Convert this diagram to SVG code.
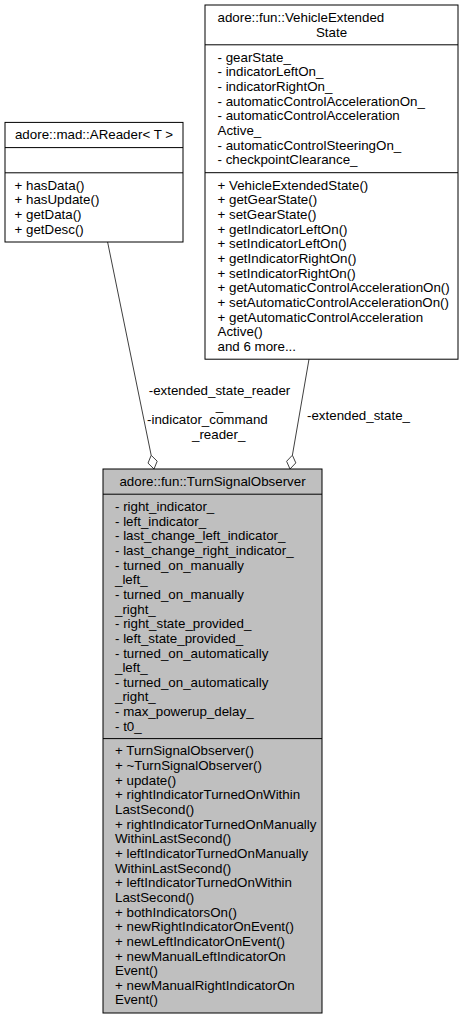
<svg xmlns="http://www.w3.org/2000/svg" width="464" height="1020" viewBox="0 0 464 1020">
<style>
text{font-family:"Liberation Sans",Arial,Helvetica,sans-serif;font-size:13.33px;fill:#000}
.box{fill:#fff;stroke:#000;stroke-width:1}
.hl{fill:#bfbfbf;stroke:#000;stroke-width:1}
.sep{stroke:#000;stroke-width:1;fill:none}
.edge{stroke:#404040;stroke-width:1;fill:none}
.dia{stroke:#404040;stroke-width:1;fill:#fff}
.mid{text-anchor:middle}
</style>
<rect width="464" height="1020" fill="#fff"/>
<g id="connectors">
<path class="edge" d="M107.6,242 L151.2,455.3"/>
<polygon class="dia" points="154,469 157.2,461.2 151.2,455.3 148,463.1"/>
<path class="edge" d="M309,359.2 L292.4,455.2"/>
<polygon class="dia" points="290,469 295.8,462.9 292.4,455.2 286.6,461.3"/>
<text class="mid" x="219.5" y="395">-extended_state_reader</text>
<text class="mid" x="219.5" y="409.6">_</text>
<text x="147" y="424.2">-indicator_command</text>
<text x="192" y="438.8">_reader_</text>
<text x="307" y="420">-extended_state_</text>
</g>
<g id="node_areader">
<rect class="box" x="5" y="122.4" width="178" height="119.6"/>
<path class="sep" d="M5,147.6H183M5,172.8H183"/>
<text class="mid" x="94" y="139.2">adore::mad::AReader&lt; T &gt;</text>
<text x="14.5" y="189.6">+ hasData()</text>
<text x="14.5" y="204.3">+ hasUpdate()</text>
<text x="14.5" y="218.9">+ getData()</text>
<text x="14.5" y="233.6">+ getDesc()</text>
</g>
<g id="node_vehicleextendedstate">
<rect class="box" x="205" y="5" width="253" height="354.2"/>
<path class="sep" d="M205,44.8H458M205,172.7H458"/>
<text x="217.5" y="21.8">adore::fun::VehicleExtended</text>
<text class="mid" x="331.5" y="36.5">State</text>
<text x="217.5" y="61.6">- gearState_</text>
<text x="217.5" y="76.3">- indicatorLeftOn_</text>
<text x="217.5" y="90.9">- indicatorRightOn_</text>
<text x="217.5" y="105.6">- automaticControlAccelerationOn_</text>
<text x="217.5" y="120.3">- automaticControlAcceleration</text>
<text x="217.5" y="134.9">Active_</text>
<text x="217.5" y="149.6">- automaticControlSteeringOn_</text>
<text x="217.5" y="164.3">- checkpointClearance_</text>
<text x="217.5" y="189.5">+ VehicleExtendedState()</text>
<text x="217.5" y="204.2">+ getGearState()</text>
<text x="217.5" y="218.8">+ setGearState()</text>
<text x="217.5" y="233.5">+ getIndicatorLeftOn()</text>
<text x="217.5" y="248.2">+ setIndicatorLeftOn()</text>
<text x="217.5" y="262.8">+ getIndicatorRightOn()</text>
<text x="217.5" y="277.5">+ setIndicatorRightOn()</text>
<text x="217.5" y="292.2">+ getAutomaticControlAccelerationOn()</text>
<text x="217.5" y="306.9">+ setAutomaticControlAccelerationOn()</text>
<text x="217.5" y="321.5">+ getAutomaticControlAcceleration</text>
<text x="217.5" y="336.2">Active()</text>
<text x="217.5" y="350.9">and 6 more...</text>
</g>
<g id="node_turnsignalobserver">
<rect class="hl" x="103" y="469" width="219" height="544"/>
<path class="sep" d="M103,494.2H322M103,738.6H322"/>
<text class="mid" x="212.5" y="485.8">adore::fun::TurnSignalObserver</text>
<text x="115" y="511">- right_indicator_</text>
<text x="115" y="525.65">- left_indicator_</text>
<text x="115" y="540.3">- last_change_left_indicator_</text>
<text x="115" y="554.95">- last_change_right_indicator_</text>
<text x="115" y="569.6">- turned_on_manually</text>
<text x="115" y="584.25">_left_</text>
<text x="115" y="598.9">- turned_on_manually</text>
<text x="115" y="613.55">_right_</text>
<text x="115" y="628.2">- right_state_provided_</text>
<text x="115" y="642.85">- left_state_provided_</text>
<text x="115" y="657.5">- turned_on_automatically</text>
<text x="115" y="672.15">_left_</text>
<text x="115" y="686.8">- turned_on_automatically</text>
<text x="115" y="701.45">_right_</text>
<text x="115" y="716.1">- max_powerup_delay_</text>
<text x="115" y="730.75">- t0_</text>
<text x="115" y="755.4">+ TurnSignalObserver()</text>
<text x="115" y="770.05">+ ~TurnSignalObserver()</text>
<text x="115" y="784.7">+ update()</text>
<text x="115" y="799.35">+ rightIndicatorTurnedOnWithin</text>
<text x="115" y="814">LastSecond()</text>
<text x="115" y="828.65">+ rightIndicatorTurnedOnManually</text>
<text x="115" y="843.3">WithinLastSecond()</text>
<text x="115" y="857.95">+ leftIndicatorTurnedOnManually</text>
<text x="115" y="872.6">WithinLastSecond()</text>
<text x="115" y="887.25">+ leftIndicatorTurnedOnWithin</text>
<text x="115" y="901.9">LastSecond()</text>
<text x="115" y="916.55">+ bothIndicatorsOn()</text>
<text x="115" y="931.2">+ newRightIndicatorOnEvent()</text>
<text x="115" y="945.85">+ newLeftIndicatorOnEvent()</text>
<text x="115" y="960.5">+ newManualLeftIndicatorOn</text>
<text x="115" y="975.15">Event()</text>
<text x="115" y="989.8">+ newManualRightIndicatorOn</text>
<text x="115" y="1004.45">Event()</text>
</g>
</svg>
